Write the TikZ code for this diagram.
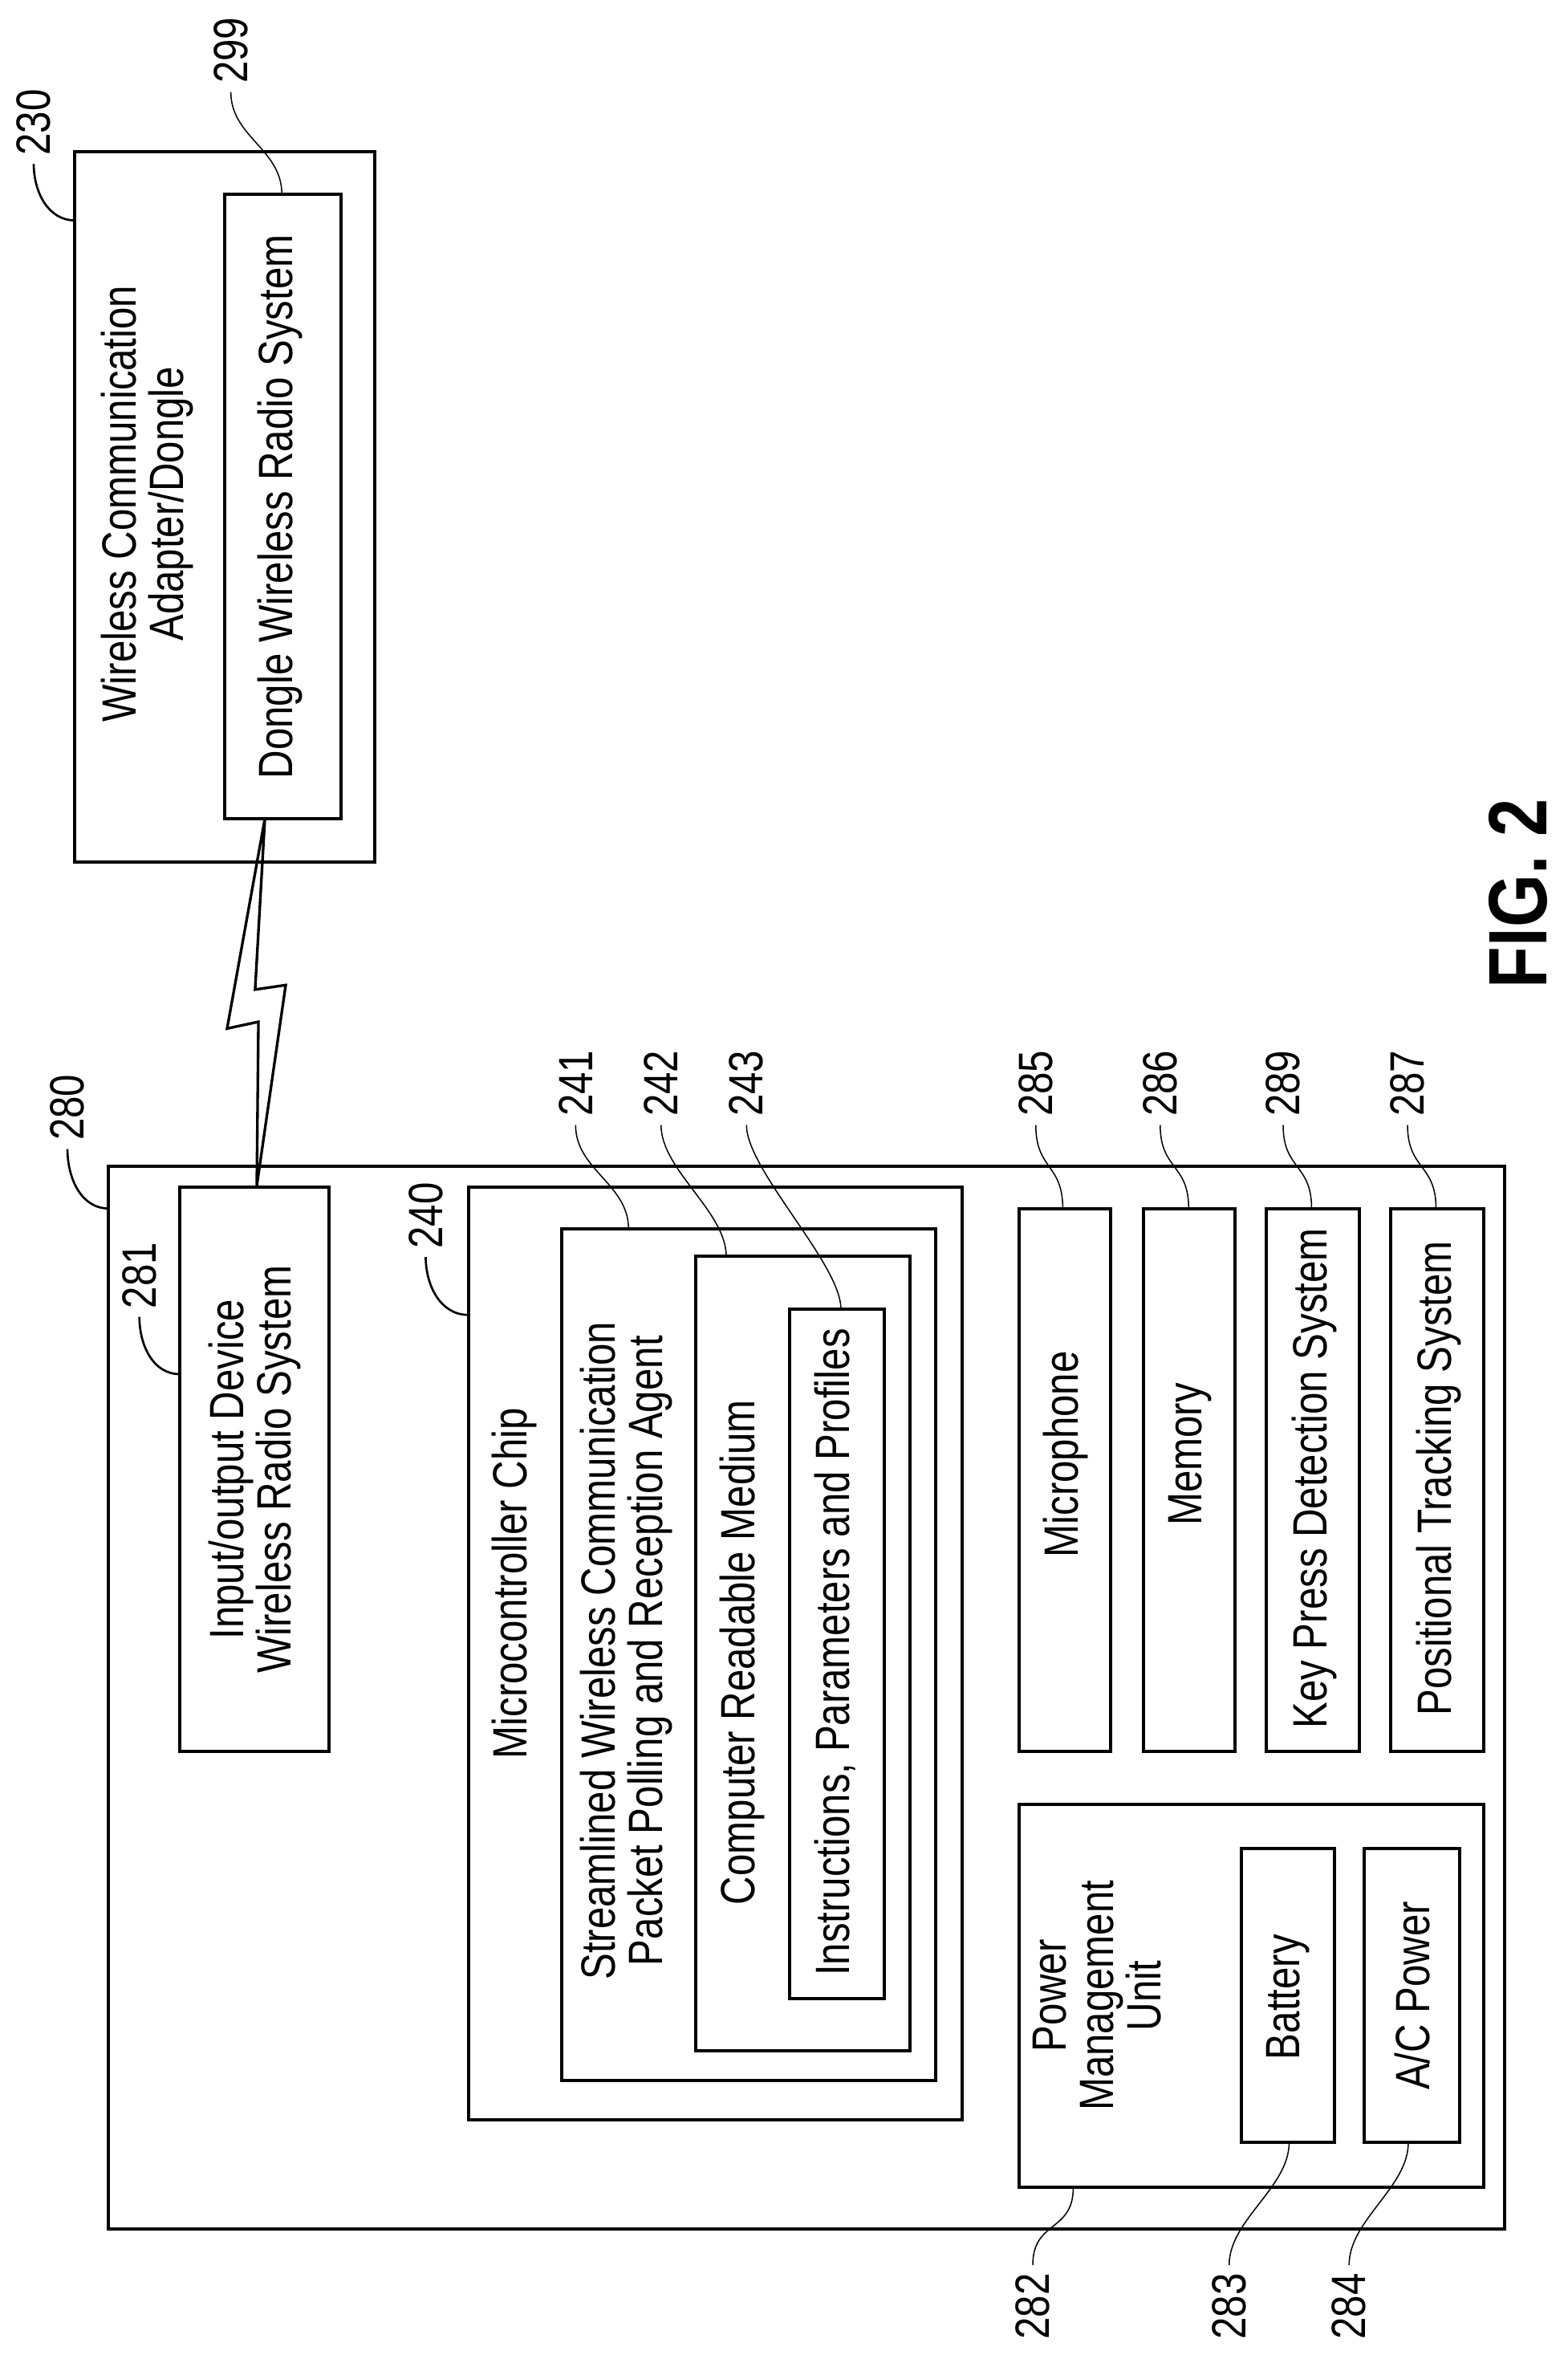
\documentclass[tikz,border=0pt]{standalone}
\usepackage{fontspec}
\setmainfont{Liberation Sans}[FakeStretch=0.82]
\begin{document}
\begin{tikzpicture}[x=0.5604pt,y=-0.5604pt,line join=miter,
  box/.style={draw,line width=1.2pt},
  txt/.style={rotate=90,align=center,inner sep=0pt,font=\fontsize{18}{17.7}\selectfont},
  num/.style={rotate=90,inner sep=0pt,font=\fontsize{18}{18}\selectfont},
  lead/.style={line width=0.8pt},
  thin lead/.style={line width=0.45pt}]
\useasboundingbox (0,0) rectangle (1046,1570.7);
% dongle
\draw[box] (50,101) rectangle (250,575);
\draw[box] (150,129.4) rectangle (227.5,546);
\node[txt] (t230) at (98,336) {Wireless Communication\\Adapter/Dongle};
\node[txt] (t299) at (187,338) {Dongle Wireless Radio System};
% input/output device
\draw[box] (72.5,778) rectangle (1004,1486.5);
\draw[box] (120,792) rectangle (219.5,1168);
\node[txt] (t281) at (170,980) {Input/output Device\\Wireless Radio System};
% microcontroller
\draw[box] (312.5,792) rectangle (642,1414);
\draw[box] (375,819.6) rectangle (624,1387.5);
\draw[box] (464,838) rectangle (607,1368);
\draw[box] (527,873) rectangle (590,1333);
\node[txt] (t240) at (343,1056) {Microcontroller Chip};
\node[txt] (t241) at (418,1101) {Streamlined Wireless Communication\\Packet Polling and Reception Agent};
\node[txt] (t242) at (495,1102) {Computer Readable Medium};
\node[txt] (t243) at (557,1102) {Instructions, Parameters and Profiles};
% peripherals
\draw[box] (680,806) rectangle (741,1168);
\draw[box] (763,806) rectangle (824,1168);
\draw[box] (845,806) rectangle (907,1168);
\draw[box] (928,806) rectangle (990,1168);
\node[txt] (t285) at (711,970) {Microphone};
\node[txt] (t286) at (794,970) {Memory};
\node[txt] (t289) at (877,986) {Key Press Detection System};
\node[txt] (t287) at (960,986) {Positional Tracking System};
% power
\draw[box] (680,1203.5) rectangle (990,1459);
\draw[box] (828,1233) rectangle (890,1429);
\draw[box] (910,1233) rectangle (974,1429);
\node[txt] (t282) at (732,1331) {Power\\Management\\Unit};
\node[txt] (t283) at (859,1332) {Battery};
\node[txt] (t284) at (942,1331) {A/C Power};
% wireless link
\draw[line width=1pt] (176.7,546) -- (151.5,686) -- (172.4,681.5) -- (171.3,791)
  -- (190.6,657) -- (170.2,660) -- cycle;
% reference numerals
\node[num,anchor=west] (n230) at (22.5,104) {230};
\node[num,anchor=west] (n299) at (154,56) {299};
\node[num,anchor=west] (n280) at (45,761) {280};
\node[num,anchor=west] (n281) at (93,873) {281};
\node[num,anchor=west] (n240) at (284,833) {240};
\node[num,anchor=west] (n241) at (384,745) {241};
\node[num,anchor=west] (n242) at (441,745) {242};
\node[num,anchor=west] (n243) at (498,745) {243};
\node[num,anchor=west] (n285) at (691,745) {285};
\node[num,anchor=west] (n286) at (774,745) {286};
\node[num,anchor=west] (n289) at (856,745) {289};
\node[num,anchor=west] (n287) at (939,745) {287};
\node[num,anchor=east] (n282) at (689,1516) {282};
\node[num,anchor=east] (n283) at (820,1516) {283};
\node[num,anchor=east] (n284) at (900,1516) {284};
\coordinate (c230) at (50,147);
\coordinate (c299) at (188,129.4);
\coordinate (c280) at (72.5,806);
\coordinate (c281) at (120,916.5);
\coordinate (c240) at (312.5,877);
\coordinate (c241) at (419.3,819.6);
\coordinate (c242) at (484.5,838);
\coordinate (c243) at (561,873);
\coordinate (c285) at (709,806);
\coordinate (c286) at (793,806);
\coordinate (c289) at (875,806);
\coordinate (c287) at (958,806);
\coordinate (c282) at (716,1459);
\coordinate (c283) at (860,1429);
\coordinate (c284) at (939.5,1429);
\foreach \n in {230,280,281,240}
  \draw[lead] ([yshift=-3pt]n\n.west) to[out=-90,in=180] (c\n);
\foreach \n in {299,241,242,243,285,286,289,287}
  \draw[thin lead] ([yshift=-3pt]n\n.west) .. controls +(0,30) and +(0,-30) .. (c\n);
\foreach \n in {282,283,284}
  \draw[thin lead] ([yshift=3pt]n\n.east) .. controls +(0,-30) and +(0,30) .. (c\n);
\node[rotate=90,inner sep=0pt,font=\fontsize{31}{31}\selectfont\bfseries] (fig) at (1013,596) {FIG. 2};
\end{tikzpicture}
\end{document}
